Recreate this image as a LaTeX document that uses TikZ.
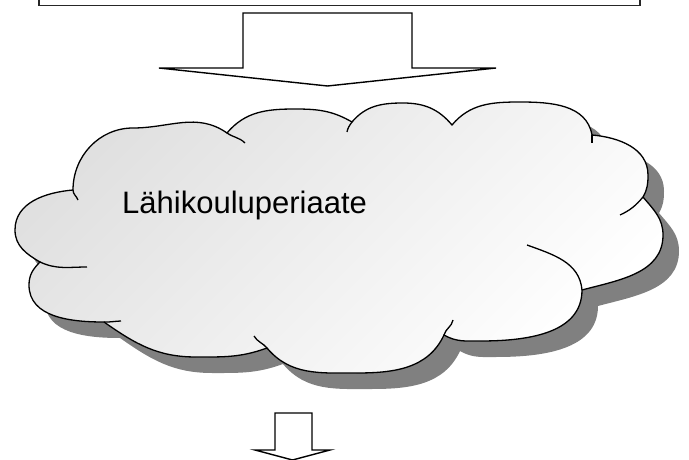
\documentclass[tikz,border=0pt]{standalone}
\usepackage{fontspec}
\setmainfont{Liberation Sans}
\begin{document}
\begin{tikzpicture}[x=1pt,y=1pt,
  outline/.style={draw=black, line width=1.3pt},
  blockarrow/.style={draw=black, fill=white, line width=1.4pt, line join=miter},
  shadowfill/.style={fill=black!50},
  cloudfill/.style={top color=black!12, bottom color=white, shading angle=45},
  labeltext/.style={anchor=base west, inner sep=0pt, font=\fontsize{31}{37}\selectfont}
]
\useasboundingbox (0,0) rectangle (689,459);
\newcommand\cloudoutline{(73,269) to[out=90,in=180] (133,331) to[out=0,in=145] (227,326)
 to[out=50,in=180] (295,350) to[out=0,in=150] (352,337)
 to[out=50,in=180] (403,356) to[out=0,in=130] (452,334)
 to[out=50,in=180] (520,357) to[out=0,in=100] (592,324)
 to[out=-5,in=90] (648,284) to[out=-90,in=60] (643,262)
 to[out=-50,in=90] (663,224) to[out=-90,in=15] (582,169)
 to[out=-90,in=0] (480,118) to[out=180,in=-30] (444,124)
 to[out=-115,in=0] (356,86) to[out=180,in=-50] (267,111)
 to[out=200,in=0] (196,102) to[out=180,in=-35] (104,137)
 to[out=180,in=-90] (29,174) to[out=90,in=-135] (40,197)
 to[out=150,in=-90] (15,229) to[out=90,in=185] (73,269) -- cycle}
% top box
\draw[line width=1.4pt, draw=black!85] (39,475) rectangle (640,453.5);
% top block arrow
\draw[blockarrow] (243,446) -- (412,446) -- (412,391) -- (496,391) -- (327.5,373) -- (159,391) -- (243,391) -- cycle;
% cloud shadow and cloud
\path[shadowfill, shift={(16,-16)}] \cloudoutline;
\path[cloudfill] \cloudoutline;
\draw[outline] \cloudoutline;
% inner arcs of the cloud
\draw[outline] (73,269) to[out=-90,in=110] (78,259);
\draw[outline] (227,326) to[out=-35,in=135] (245,316);
\draw[outline] (352,337) to[out=235,in=80] (347,327);
\draw[outline] (592,324) to[out=-88,in=92] (592,316);
\draw[outline] (643,262) to[out=-130,in=25] (620,244);
\draw[outline] (582,169) to[out=95,in=-20] (527,214);
\draw[outline] (444,124) to[out=75,in=-100] (453,139);
\draw[outline] (267,111) to[out=130,in=-60] (254,123);
\draw[outline] (104,137) to[out=-2,in=182] (121,138);
\draw[outline] (40,197) to[out=-25,in=180] (87,192);
% label
\node[labeltext] (label) at (122,246) {Lähikouluperiaate};
% bottom block arrow
\draw[blockarrow] (275,46) -- (312,46) -- (312,9) -- (330,9) -- (292.5,-1) -- (255,9) -- (275,9) -- cycle;
\end{tikzpicture}
\end{document}
